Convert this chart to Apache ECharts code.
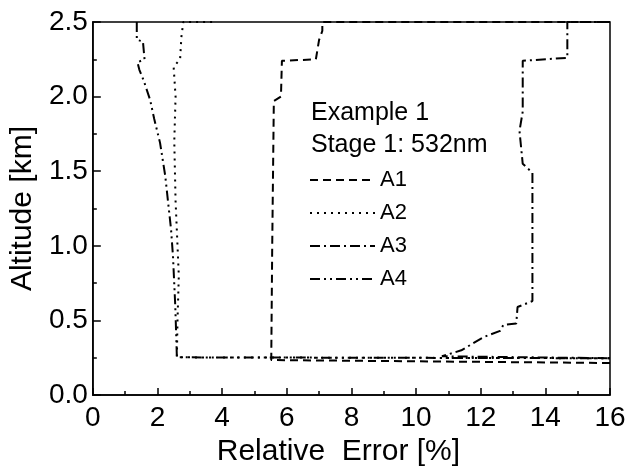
<!DOCTYPE html>
<html>
<head>
<meta charset="utf-8">
<script src="https://cdn.jsdelivr.net/npm/echarts@6/dist/echarts.min.js"></script>
<style>
html,body{margin:0;padding:0;background:#fff;}
#chart{width:636px;height:472px;}
</style>
</head>
<body>
<div id="chart"></div>
<script>
// Data: [relative error %, altitude km]
var seriesNames = ['A1', 'A2', 'A3', 'A4'];
var a1 = [[16, 0.215], [5.52, 0.235], [5.55, 1.0], [5.6, 1.97], [5.82, 2.0], [5.85, 2.24], [6.9, 2.25], [7.0, 2.38], [7.1, 2.44], [7.1, 2.5], [16, 2.5]];
var a2 = [[16, 0.247], [2.6, 0.253], [2.62, 0.5], [2.66, 0.8], [2.62, 1.0], [2.56, 1.3], [2.52, 1.7], [2.56, 2.0], [2.5, 2.2], [2.7, 2.25], [2.74, 2.4], [2.8, 2.5], [3.7, 2.5]];
var a3 = [[16, 2.5], [14.68, 2.5], [14.68, 2.26], [13.3, 2.24], [13.3, 1.9], [13.2, 1.77], [13.3, 1.55], [13.6, 1.49], [13.6, 0.63], [13.14, 0.59], [13.1, 0.48], [12.7, 0.47], [12.6, 0.43], [12.1, 0.39], [11.4, 0.30], [10.8, 0.26], [16, 0.247]];
var a4 = [[1.36, 2.5], [1.36, 2.38], [1.55, 2.37], [1.6, 2.25], [1.38, 2.23], [1.44, 2.18], [1.57, 2.11], [1.77, 1.98], [1.9, 1.85], [2.08, 1.69], [2.24, 1.47], [2.33, 1.29], [2.42, 1.11], [2.48, 0.93], [2.55, 0.6], [2.58, 0.4], [2.6, 0.253], [16, 0.247]];
var xTicks = [0, 2, 4, 6, 8, 10, 12, 14, 16];
var yTicks = ['0.0', '0.5', '1.0', '1.5', '2.0', '2.5'];
var headerLines = ['Example 1', 'Stage 1: 532nm'];

var font = '"Liberation Sans", Arial, Helvetica, sans-serif';
var dashes = [[8, 5], [2, 5], [10, 4, 2, 4], [10, 4, 2, 4, 2, 4]];
var datasets = [a1, a2, a3, a4];

var chart = echarts.init(document.getElementById('chart'), null, {renderer: 'canvas'});
chart.setOption({
  animation: false,
  backgroundColor: '#fff',
  grid: {left: 89, right: 26, top: 22, bottom: 75, show: true, borderColor: '#000', borderWidth: 1.5, containLabel: false},
  xAxis: {
    type: 'value', min: 0, max: 16, interval: 2,
    name: 'Relative  Error [%]', nameLocation: 'middle', nameGap: 38,
    nameTextStyle: {fontFamily: font, fontSize: 30, color: '#000', padding: [0, 26, 0, 0]},
    axisLine: {show: true, lineStyle: {color: '#000', width: 1.5}},
    axisTick: {show: true, inside: true, length: 7, lineStyle: {color: '#000', width: 1.5}},
    minorTick: {show: true, splitNumber: 2, length: 4, lineStyle: {color: '#000', width: 1.5}},
    splitLine: {show: false},
    axisLabel: {fontFamily: font, fontSize: 28, color: '#000', margin: 9,
      formatter: function (v) { return xTicks.indexOf(v) >= 0 ? String(v) : ''; }}
  },
  yAxis: {
    type: 'value', min: 0, max: 2.5, interval: 0.5,
    name: 'Altitude [km]', nameLocation: 'middle', nameGap: 46,
    nameTextStyle: {fontFamily: font, fontSize: 30, color: '#000'},
    axisLine: {show: true, lineStyle: {color: '#000', width: 1.5}},
    axisTick: {show: true, inside: true, length: 8, lineStyle: {color: '#000', width: 1.5}},
    minorTick: {show: true, splitNumber: 2, length: 4, lineStyle: {color: '#000', width: 1.5}},
    splitLine: {show: false},
    axisLabel: {fontFamily: font, fontSize: 28, color: '#000', margin: 5,
      formatter: function (v) { return yTicks[Math.round(v / 0.5)]; }}
  },
  legend: {
    show: true, orient: 'vertical', left: 309, top: 169, padding: 0,
    itemWidth: 65, itemHeight: 12, itemGap: 11,
    itemStyle: {opacity: 0},
    textStyle: {fontFamily: font, fontSize: 22, color: '#000'},
    data: seriesNames
  },
  graphic: [
    {type: 'text', left: 311, top: 101, style: {text: headerLines[0], fontFamily: font, fontSize: 25, fill: '#000'}},
    {type: 'text', left: 311, top: 133, style: {text: headerLines[1], fontFamily: font, fontSize: 25, fill: '#000'}}
  ],
  series: seriesNames.map(function (n, i) {
    return {
      name: n, type: 'line', data: datasets[i], symbol: 'none', showSymbol: false,
      lineStyle: {color: '#000', width: 2, type: dashes[i]},
      itemStyle: {color: '#000'}
    };
  })
});
</script>
</body>
</html>
